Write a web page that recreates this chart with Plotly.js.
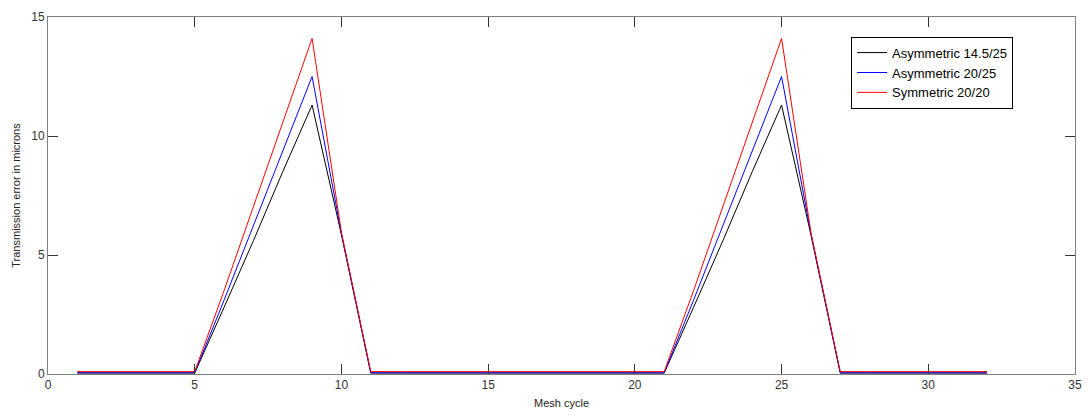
<!DOCTYPE html>
<html>
<head>
<meta charset="utf-8">
<script src="https://cdn.plot.ly/plotly-3.0.1.min.js"></script>
<style>html,body{margin:0;padding:0;background:#fff;}#chart{width:1088px;height:415px;}</style>
</head>
<body>
<div id="chart"></div>
<script>
const meshCycle = [1,2,3,4,5,6,7,8,9,10,11,12,13,14,15,16,17,18,19,20,21,22,23,24,25,26,27,28,29,30,31,32];
const asym145 = [0.04,0.04,0.04,0.04,0.04,2.8,5.6,8.5,11.3,5.85,0.04,0.04,0.04,0.04,0.04,0.04,0.04,0.04,0.04,0.04,0.04,2.8,5.6,8.5,11.3,5.85,0.04,0.04,0.04,0.04,0.04,0.04];
const asym20 = [0.05,0.05,0.05,0.05,0.05,3.1,6.25,9.4,12.5,5.9,0.05,0.05,0.05,0.05,0.05,0.05,0.05,0.05,0.05,0.05,0.05,3.1,6.25,9.4,12.5,5.9,0.05,0.05,0.05,0.05,0.05,0.05];
const sym20 = [0.1,0.1,0.1,0.1,0.1,3.5,7.05,10.6,14.1,5.95,0.1,0.1,0.1,0.1,0.1,0.1,0.1,0.1,0.1,0.1,0.1,3.5,7.05,10.6,14.1,5.95,0.1,0.1,0.1,0.1,0.1,0.1];
const seriesNames = ["Asymmetric 14.5/25","Asymmetric 20/25","Symmetric 20/20"];
const seriesColors = ["#000000","#0000ff","#ff0000"];
const xTicks = [0,5,10,15,20,25,30,35];
const yTicks = [0,5,10,15];

const allY = [asym145, asym20, sym20];
const traces = allY.map((y,i)=>({
  x: meshCycle, y: y, type:'scatter', mode:'lines', name: seriesNames[i],
  line:{color: seriesColors[i], width:1}
}));

const axisCommon = {
  showgrid:false, zeroline:false, showline:true, linecolor:'#7f7f7f', linewidth:1,
  mirror:'ticks', ticks:'inside', ticklen:10, tickcolor:'#333', tickwidth:1,
  tickfont:{family:'Liberation Sans, Arial, sans-serif', size:12, color:'#333'}
};

const layout = {
  width:1088, height:415,
  margin:{l:48, r:13, t:17, b:41},
  paper_bgcolor:'#fff', plot_bgcolor:'#fff',
  showlegend:true,
  font:{family:'Liberation Sans, Arial, sans-serif', color:'#000'},
  xaxis: Object.assign({}, axisCommon, {
    range:[0,35], tickmode:'array', tickvals:xTicks, ticktext:xTicks.map(String),
    title:{text:'Mesh cycle', font:{size:11, color:'#222'}, standoff:7}
  }),
  yaxis: Object.assign({}, axisCommon, {
    range:[0,15], tickmode:'array', tickvals:yTicks, ticktext:yTicks.map(String),
    title:{text:'Transmission error in microns', font:{size:11, color:'#222'}, standoff:8}
  }),
  legend:{
    x:0.782, y:0.945, xanchor:'left', yanchor:'top',
    bordercolor:'#000', borderwidth:1, bgcolor:'#fff',
    font:{size:13, color:'#000'}, tracegroupgap:0, itemwidth:30
  }
};
Plotly.newPlot('chart', traces, layout, {displayModeBar:false, staticPlot:true});
</script>
</body>
</html>
